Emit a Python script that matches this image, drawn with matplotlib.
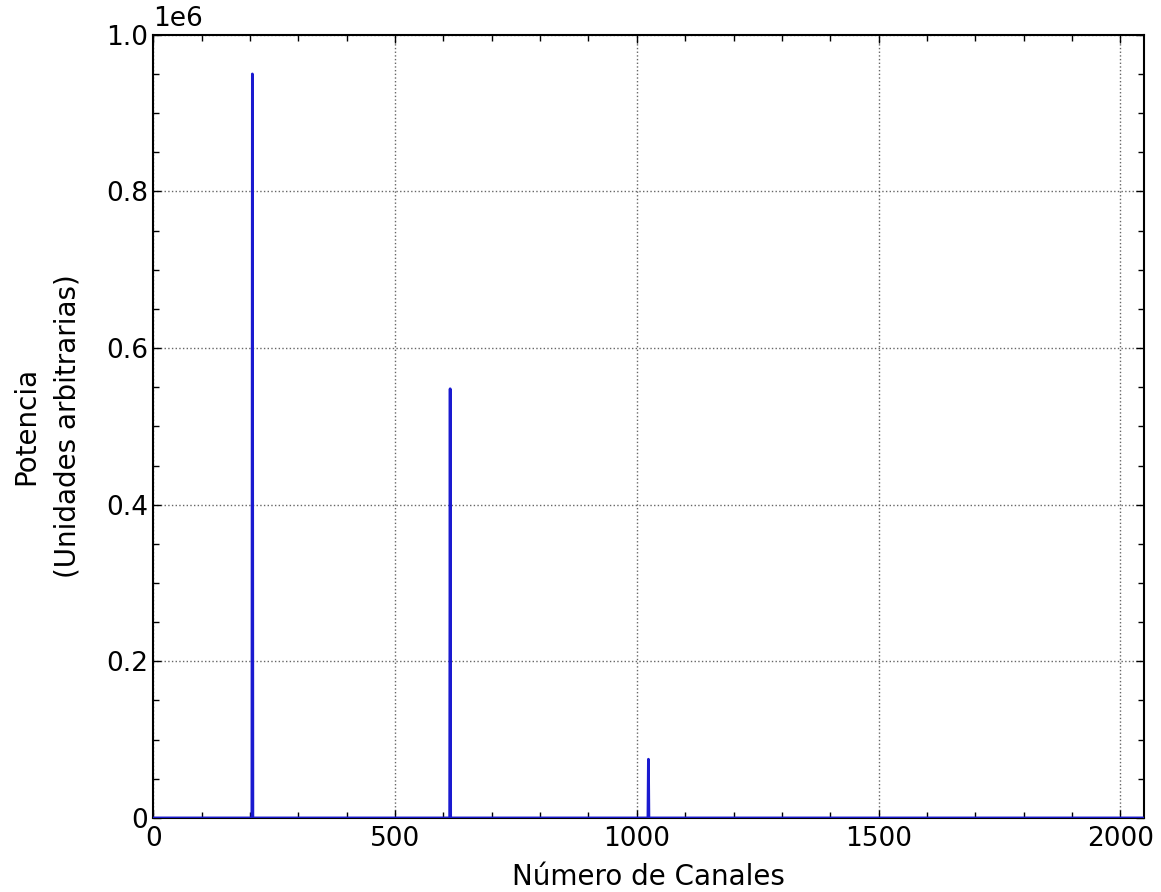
import numpy as np
import matplotlib
matplotlib.use("Agg")
import matplotlib.pyplot as plt
from matplotlib.ticker import MultipleLocator

### Data
n_channels = 2048
peak_channels = [205, 614, 1024]
peak_heights = [0.95e6, 0.548e6, 0.075e6]
y_ticks = [0, 0.2e6, 0.4e6, 0.6e6, 0.8e6, 1.0e6]
y_tick_labels = ["0", "0.2", "0.4", "0.6", "0.8", "1.0"]
x_ticks = [0, 500, 1000, 1500, 2000]

channels = np.arange(n_channels)
power = np.zeros(n_channels)
power[peak_channels] = peak_heights

### Figure
fig = plt.figure(figsize=(11.61, 8.92), dpi=100)
ax = fig.add_axes([0.132, 0.083, 0.853, 0.878])

ax.plot(channels, power, color="#1a1ad0", linewidth=2.0, zorder=3)

ax.set_xlim(0, n_channels)
ax.set_ylim(0, 1.0e6)
ax.set_xticks(x_ticks)
ax.set_yticks(y_ticks)
ax.set_yticklabels(y_tick_labels)
ax.xaxis.set_minor_locator(MultipleLocator(100))
ax.yaxis.set_minor_locator(MultipleLocator(0.05e6))

ax.tick_params(which="both", direction="in", top=True, right=True, labelsize=19, width=1.0)
ax.tick_params(which="major", length=6)
ax.tick_params(which="minor", length=4)
ax.tick_params(axis="x", pad=6)
for s in ax.spines.values():
	s.set_linewidth(1.5)

ax.grid(True, which="major", linestyle=":", color="#666666", linewidth=1.0)

ax.text(0.0, 1.003, "1e6", transform=ax.transAxes, fontsize=19, ha="left", va="bottom")

ax.set_xlabel("Número de Canales", fontsize=20, labelpad=8)
ax.set_ylabel("Potencia\n(Unidades arbitrarias)", fontsize=20, labelpad=18, linespacing=1.6)

fig.savefig("out.png", dpi=100)
